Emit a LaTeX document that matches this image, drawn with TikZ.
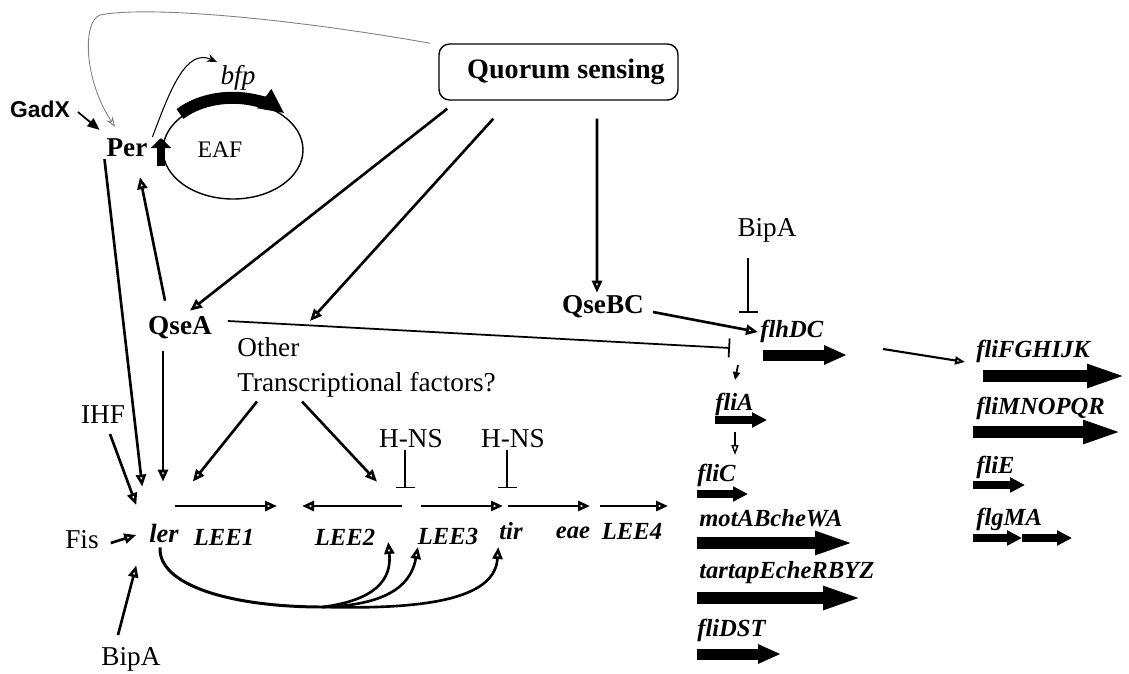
\documentclass[tikz,border=0pt]{standalone}
\usepackage{fontspec}
\setmainfont{Liberation Serif}
\newfontfamily\arialfont{Liberation Sans}
\usetikzlibrary{arrows.meta,calc}

\tikzset{
  txt/.style={inner sep=1pt, font=\fontsize{15.5}{20}\selectfont},
  prot/.style={inner sep=1pt, font=\bfseries\fontsize{15.5}{20}\selectfont},
  gene/.style={inner sep=0pt, anchor=base west, font=\bfseries\itshape\fontsize{14}{16}\selectfont},
  leegene/.style={inner sep=1pt, font=\bfseries\itshape\fontsize{14}{16}\selectfont},
  act/.style={line width=1.5pt, -{Triangle[open, length=0.24cm, width=0.2cm]}},
  inh/.style={line width=1pt, -{Bar[width=0.38cm]}},
  orfbig/.style={line width=0.25cm, -{Triangle[length=0.8cm, width=0.42cm]}},
  orfmid/.style={line width=0.22cm, -{Triangle[length=0.46cm, width=0.36cm]}},
  orfsmall/.style={line width=0.17cm, -{Triangle[length=0.3cm, width=0.29cm]}}
}

\begin{document}
\begin{tikzpicture}[x=0.02cm, y=-0.02cm]
    \useasboundingbox (0,0) rectangle (1129,673);

    % regulators
    \node[draw, rounded corners=6pt, line width=0.8pt, minimum width=4.78cm, minimum height=1.12cm, inner sep=0pt,
          font=\bfseries\fontsize{16}{19}\selectfont] (qs) at (558.5,72) {\hspace{0.3cm}Quorum sensing};
    \node[inner sep=1pt, font=\arialfont\bfseries\fontsize{13}{15}\selectfont] (gadx) at (40,109) {GadX};
    \node[prot] (per) at (127,148) {Per};
    \node[txt, font=\itshape\fontsize{15.5}{18}\selectfont] (bfp) at (238,78) {bfp};
    \node[txt, font=\fontsize{13.5}{16}\selectfont] (eaf) at (220,150) {EAF};
    \node[prot] (qsea) at (180,328) {QseA};
    \node[txt, anchor=north west, inner sep=0pt, align=left] (other) at (237,337) {Other\\Transcriptional factors?};
    \node[prot] (qsebc) at (603,307) {QseBC};
    \node[txt] (bipar) at (767,230) {BipA};
    \node[txt] (ihf) at (103,415) {IHF};
    \node[txt] (fis) at (82,540) {Fis};
    \node[txt] (bipal) at (131,659) {BipA};
    \node[txt] (hnsa) at (411,439) {H-NS};
    \node[txt] (hnsb) at (513,439) {H-NS};

    % LEE operons
    \node[leegene, font=\bfseries\itshape\fontsize{15}{17}\selectfont] (ler) at (164,533) {ler};
    \node[leegene] (leea) at (224,537) {LEE1};
    \node[leegene] (leeb) at (345,537) {LEE2};
    \node[leegene] (leec) at (448,536) {LEE3};
    \node[leegene] (tir) at (511,531) {tir};
    \node[leegene] (eae) at (573,533) {eae};
    \node[leegene] (leed) at (632,531) {LEE4};
    \draw[act] (175,506) -- (277,506);
    \draw[act] (402,506) -- (302,506);
    \draw[act] (421,506) -- (503,506);
    \draw[act] (508,506) -- (590,506);
    \draw[act] (600,506) -- (668,506);

    % flagellar genes
    \node[gene] (flhdc) at (760,337) {flhDC};
    \node[gene] (flia) at (715,410) {fliA};
    \node[gene] (flic) at (697,481) {fliC};
    \node[gene] (mota) at (699,526) {motABcheWA};
    \node[gene] (tarp) at (699,578) {tartapEcheRBYZ};
    \node[gene] (flid) at (697,636) {fliDST};
    \node[gene] (flif) at (976,357) {fliFGHIJK};
    \node[gene] (flim) at (976,414) {fliMNOPQR};
    \node[gene] (flie) at (976,473) {fliE};
    \node[gene] (flgm) at (976,525) {flgMA};
    \draw[orfmid] (763,355) -- (847,355);
    \draw[orfbig] (983,376) -- (1127,376);
    \draw[orfbig] (973,432) -- (1123,432);
    \draw[orfsmall] (973,485) -- (1025,485);
    \draw[orfsmall] (973,538) -- (1022,538);
    \draw[orfsmall] (1022,538) -- (1072,538);
    \draw[orfsmall] (715,420) -- (767,420);
    \draw[orfsmall] (697,494) -- (748,494);
    \draw[orfbig] (697,543) -- (855,543);
    \draw[orfbig] (697,598) -- (863,598);
    \draw[orfmid] (697,654) -- (781,654);

    % EAF plasmid
    \draw[line width=0.8pt] (233,150) ellipse [x radius=70, y radius=49];
    \draw[line width=0.24cm, -{Triangle[length=0.5cm, width=0.44cm]}] (180,114) arc[start angle=-137, end angle=-44, x radius=72, y radius=51];
    \draw[line width=0.16cm, -{Triangle[length=0.2cm, width=0.4cm]}] (161,166) -- (161,138);
    \coordinate (bfptip) at (217,62);
    \draw[line width=0.6pt, -{Stealth[length=0.2cm, width=0.16cm]}] ($(per.north east)+(3,0)$) .. controls (170,90) and (186,48) .. (bfptip);

    % regulation
    \draw[gray, line width=0.5pt, -{Stealth[open, length=0.2cm, width=0.15cm]}] ($(qs.north west)+(-8,0)$) .. controls (300,20) and (150,5) .. (100,15) .. controls (82,22) and (84,80) .. ($(per.north)+(-12,-10)$);
    \draw[line width=1pt, -{Triangle[length=0.24cm, width=0.2cm]}] ($(gadx.east)+(6,3)$) -- ($(per.north west)+(-5,-7)$);
    \draw[act] ($(qs.south west)+(9,8)$) -- ($(qsea.north)+(10,-4)$);
    \draw[act] ($(qs.south west)+(55,18)$) -- ($(other.north west)+(73,-16)$);
    \draw[act] ($(qs.south)+(38.5,18)$) -- ($(qsebc.north)+(-6,-1)$);
    \draw[act] ($(qsea.north)+(-15,-14)$) -- ($(per.south)+(13,18)$);
    \draw[act] (per.south west) -- ($(ler.north west)+(-5,-35)$);
    \draw[act] ($(qsea.south)+(-17,10)$) -- ($(ler.north)+(-1,-40)$);
    \draw[act] ($(ihf.south)+(7,8)$) -- ($(ler.west)+(-11,-28)$);
    \draw[act] ($(fis.east)+(10,3)$) -- ($(ler.west)+(-11,2)$);
    \draw[act] ($(bipal.north)+(-13,-10)$) -- ($(ler.south west)+(-11,21)$);
    \draw[act] ($(other.south west)+(20,4)$) -- ($(ler.north east)+(12,-40)$);
    \draw[act] ($(other.south west)+(65,4)$) -- ($(leeb.north)+(32,-45)$);
    \draw[inh] ($(hnsa.south)+(-6,0)$) -- ($(hnsa.south)+(-6,38)$);
    \draw[inh] ($(hnsb.south)+(-6,0)$) -- ($(hnsb.south)+(-6,38)$);
    \draw[inh] ($(qsea.east)+(14,-7)$) -- ($(flhdc.base west)+(-30,11)$);
    \draw[act] ($(qsebc.east)+(7,5)$) -- ($(flhdc.base west)+(-2,-5)$);
    \draw[inh] ($(bipar.south)+(-19,14)$) -- ($(flhdc.base west)+(-12,-24)$);
    \draw[line width=1pt, -{Triangle[length=0.16cm, width=0.14cm]}] ($(flhdc.base west)+(-22,28)$) -- ($(flia.base west)+(20,-30)$);
    \draw[line width=0.8pt, -{Triangle[open, length=0.2cm, width=0.14cm]}] ($(flia.base west)+(20,22)$) -- ($(flic.base west)+(38,-26)$);
    \draw[line width=1.2pt, -{Triangle[open, length=0.2cm, width=0.16cm]}] ($(flhdc.base west)+(123,12)$) -- ($(flif.base west)+(-11,5)$);

    % ler activates LEE2, LEE3, tir
    \coordinate (fork) at (323,607);
    \draw[line width=1.7pt] ($(ler.south)+(-4,3)$) .. controls (158,585) and (230,607) .. (fork);
    \draw[act] (fork) .. controls (375,600) and (392,580) .. ($(leeb.east)+(11,5)$);
    \draw[act] (fork) .. controls (395,605) and (412,580) .. ($(leec.west)+(2,11)$);
    \draw[act] (fork) .. controls (440,610) and (495,595) .. ($(tir.west)+(1,16)$);
\end{tikzpicture}
\end{document}
